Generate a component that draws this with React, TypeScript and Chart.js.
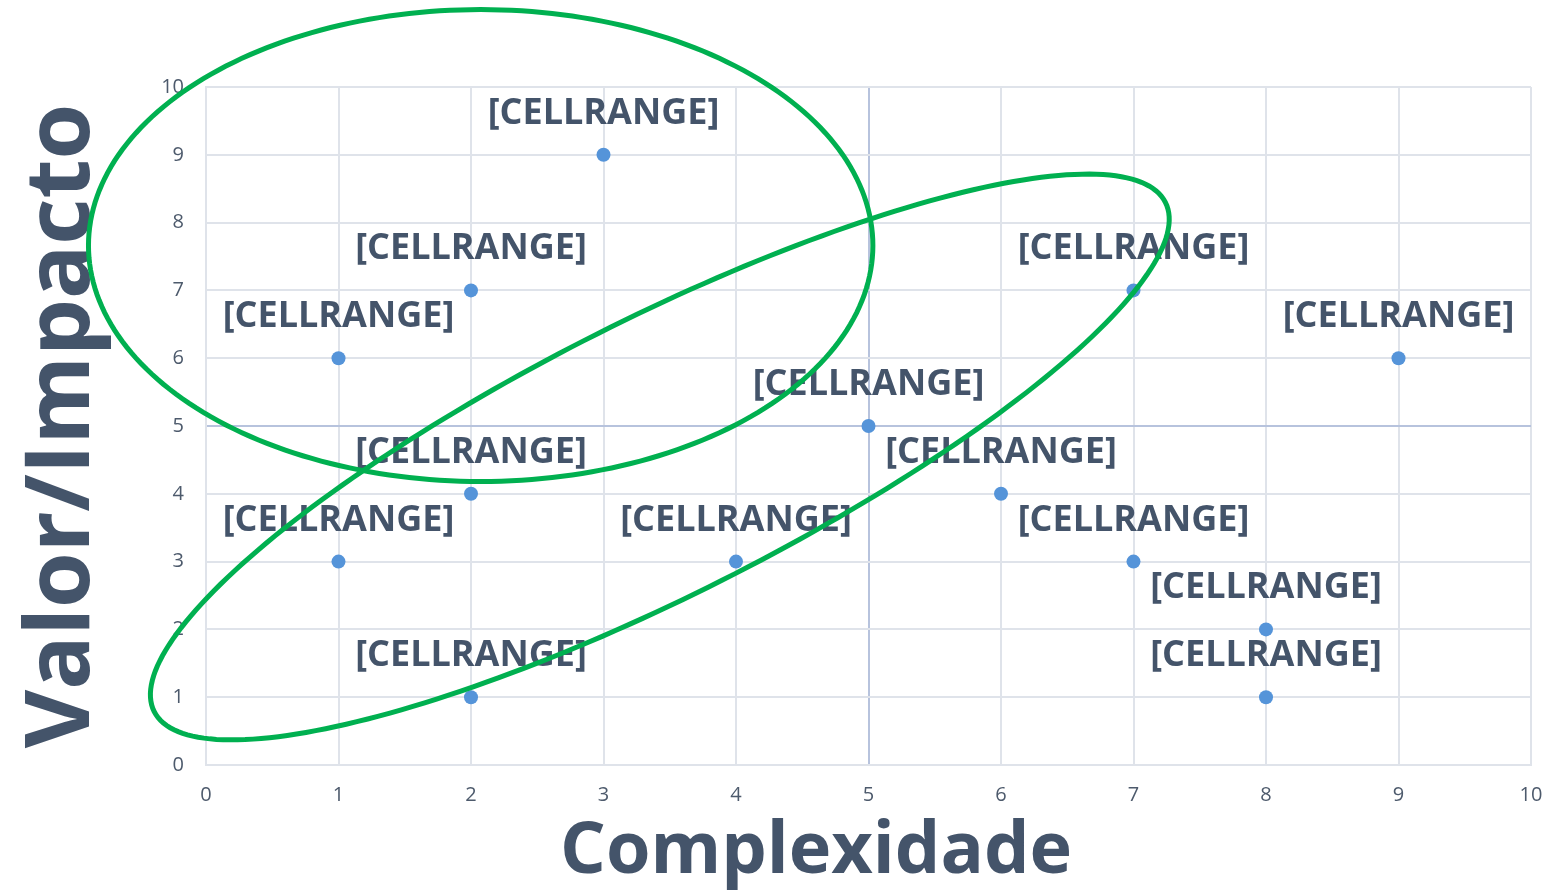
import { useEffect, useRef } from 'react';
import { Chart, registerables } from 'chart.js';

Chart.register(...registerables);

// Data
const complexidade = [3, 2, 1, 7, 9, 5, 2, 6, 1, 4, 7, 8, 8, 2];
const valorImpacto = [9, 7, 6, 7, 6, 5, 4, 4, 3, 3, 3, 2, 1, 1];
const pointLabels = [
  '[CELLRANGE]', '[CELLRANGE]', '[CELLRANGE]', '[CELLRANGE]', '[CELLRANGE]',
  '[CELLRANGE]', '[CELLRANGE]', '[CELLRANGE]', '[CELLRANGE]', '[CELLRANGE]',
  '[CELLRANGE]', '[CELLRANGE]', '[CELLRANGE]', '[CELLRANGE]',
];
const axisMin = 0;
const axisMax = 10;
const axisStep = 1;
const quadrantValue = 5;
const xTitle = 'Complexidade';
const yTitle = 'Valor/Impacto';

// Highlight ellipses, in data units: centre and two conjugate semi-axis vectors
const ellipseCentres = [[2.073, 7.662], [3.425, 4.543]];
const ellipseAxisA = [[2.96, 0], [3.816, 3.755]];
const ellipseAxisB = [[0, 3.48], [0.469, -1.819]];

const TEXT = '#44546A';
const GRID = '#dfe3ea';
const GRID_MID = '#b7c3dd';

const overlayPlugin = {
  id: 'overlay',
  afterDatasetsDraw(chart: any) {
    const ctx = chart.ctx;
    const meta = chart.getDatasetMeta(0);
    ctx.save();
    ctx.font = 'bold 36px "Open Sans"';
    ctx.fillStyle = TEXT;
    ctx.textAlign = 'center';
    ctx.textBaseline = 'alphabetic';
    meta.data.forEach((el: any, i: number) => {
      ctx.fillText(pointLabels[i], el.x, el.y - 31);
    });
    ctx.restore();
  },
  afterDraw(chart: any) {
    const ctx = chart.ctx;
    const xs = chart.scales.x;
    const ys = chart.scales.y;
    ctx.save();
    // x axis title
    ctx.font = 'bold 72px "Open Sans"';
    ctx.fillStyle = TEXT;
    ctx.textAlign = 'center';
    ctx.textBaseline = 'alphabetic';
    ctx.fillText(xTitle, 816, 873);
    // ellipses
    ctx.strokeStyle = '#00b050';
    ctx.lineWidth = 5;
    ellipseCentres.forEach((c, k) => {
      const A = ellipseAxisA[k];
      const B = ellipseAxisB[k];
      ctx.beginPath();
      const n = 240;
      for (let i = 0; i <= n; i++) {
        const t = (i / n) * Math.PI * 2;
        const dx = c[0] + A[0] * Math.cos(t) + B[0] * Math.sin(t);
        const dy = c[1] + A[1] * Math.cos(t) + B[1] * Math.sin(t);
        const px = xs.getPixelForValue(dx);
        const py = ys.getPixelForValue(dy);
        if (i === 0) ctx.moveTo(px, py);
        else ctx.lineTo(px, py);
      }
      ctx.closePath();
      ctx.stroke();
    });
    ctx.restore();
  },
};

export default function App() {
  const ref = useRef<HTMLCanvasElement | null>(null);
  useEffect(() => {
    if (!ref.current) return;
    const gridColor = (c: any) => (c.tick && c.tick.value === quadrantValue ? GRID_MID : GRID);
    const chart = new Chart(ref.current, {
      type: 'scatter',
      data: {
        datasets: [
          {
            label: 'Itens',
            data: complexidade.map((x, i) => ({ x, y: valorImpacto[i] })),
            backgroundColor: '#5594d9',
            borderWidth: 0,
            pointRadius: 7,
          },
        ],
      },
      options: {
        animation: false,
        responsive: false,
        layout: { padding: { top: 87, right: 19, left: 0, bottom: 0 } },
        plugins: { legend: { display: false }, tooltip: { enabled: false } },
        scales: {
          x: {
            type: 'linear',
            min: axisMin,
            max: axisMax,
            afterFit: (s: any) => {
              s.height = 128;
              s.paddingRight = 0;
              s.paddingLeft = 0;
            },
            ticks: {
              stepSize: axisStep,
              padding: 18,
              color: '#4d5a6c',
              font: { family: 'Open Sans', size: 20 },
            },
            grid: { color: gridColor, lineWidth: 2, drawTicks: false },
            border: { display: true, color: GRID, width: 2 },
            title: { display: false },
          },
          y: {
            type: 'linear',
            min: axisMin,
            max: axisMax,
            afterFit: (s: any) => {
              s.width = 206;
              s.paddingTop = 0;
              s.paddingBottom = 0;
            },
            ticks: {
              stepSize: axisStep,
              padding: 22,
              color: '#4d5a6c',
              font: { family: 'Open Sans', size: 20 },
            },
            grid: { color: gridColor, lineWidth: 2, drawTicks: false },
            border: { display: true, color: GRID, width: 2 },
            title: {
              display: true,
              text: yTitle,
              color: TEXT,
              font: { family: 'Open Sans', size: 90, weight: 'bold' },
              padding: { top: 9, bottom: 0 },
            },
          },
        },
      },
      plugins: [overlayPlugin],
    });
    return () => chart.destroy();
  }, []);
  return (
    <div style={{ position: 'absolute', left: 0, top: 0, width: 1550, height: 893, background: '#fff' }}>
      <canvas ref={ref} width={1550} height={893} style={{ display: 'block' }} />
    </div>
  );
}
